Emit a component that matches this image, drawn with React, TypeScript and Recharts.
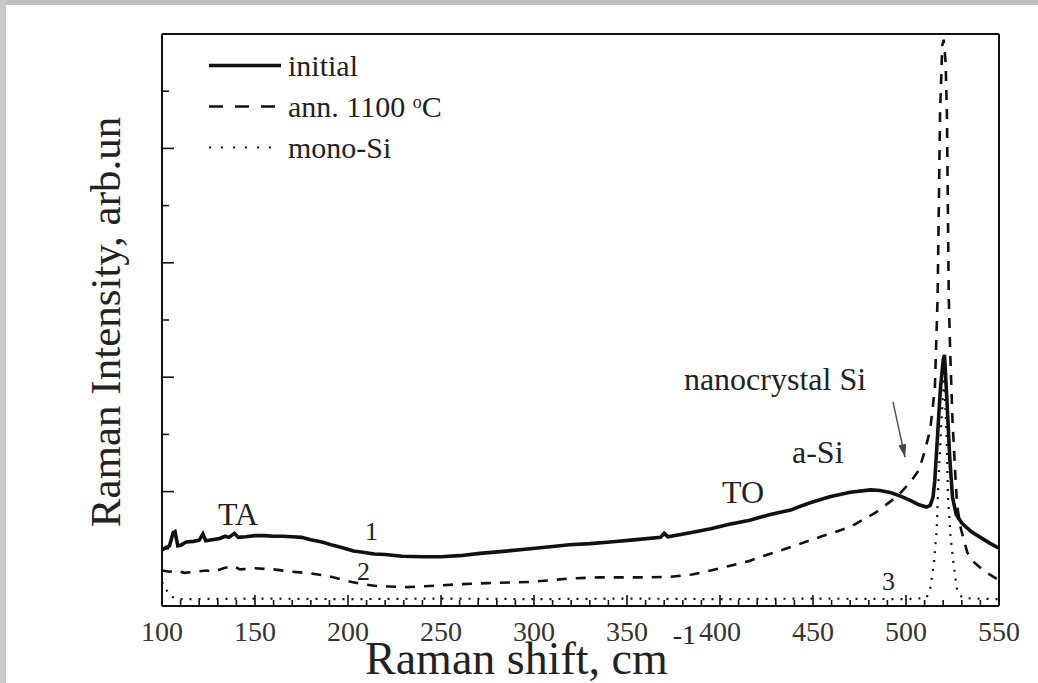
import React from 'react';
import { LineChart, Line, XAxis, YAxis, Legend, ReferenceDot, ReferenceLine, Label } from 'recharts';

// Raman shift, cm-1
const xTicks = [100, 110, 120, 130, 140, 150, 160, 170, 180, 190, 200, 210, 220, 230, 240, 250, 260, 270, 280, 290, 300, 310, 320, 330, 340, 350, 360, 370, 380, 390, 400, 410, 420, 430, 440, 450, 460, 470, 480, 490, 500, 510, 520, 530, 540, 550];
const xLabels = [100, 150, 200, 250, 300, 350, 400, 450, 500, 550];
const yTicks = [0, 1, 2, 3, 4, 5, 6, 7, 8, 9, 10];
const yMajor = [0, 2, 4, 6, 8, 10];

// curve 1 - initial
const initialSeries = [
  { x: 100, y: 0.98 }, { x: 102, y: 1.02 }, { x: 104, y: 1.05 }, { x: 106, y: 1.28 }, { x: 107, y: 1.3 },
  { x: 108.5, y: 1.05 }, { x: 110, y: 1.06 }, { x: 113, y: 1.12 }, { x: 117, y: 1.13 }, { x: 120, y: 1.15 },
  { x: 122, y: 1.26 }, { x: 123.5, y: 1.14 }, { x: 127, y: 1.16 }, { x: 131, y: 1.18 }, { x: 134, y: 1.22 },
  { x: 136, y: 1.2 }, { x: 139, y: 1.27 }, { x: 141, y: 1.2 }, { x: 145, y: 1.21 }, { x: 150, y: 1.23 },
  { x: 155, y: 1.23 }, { x: 160, y: 1.22 }, { x: 165, y: 1.22 }, { x: 170, y: 1.21 }, { x: 175, y: 1.2 },
  { x: 180, y: 1.16 }, { x: 186, y: 1.12 }, { x: 192, y: 1.06 }, { x: 197, y: 1.02 }, { x: 203, y: 0.96 },
  { x: 208, y: 0.94 }, { x: 214, y: 0.91 }, { x: 220, y: 0.9 }, { x: 229, y: 0.87 }, { x: 240, y: 0.86 },
  { x: 250, y: 0.86 }, { x: 260, y: 0.88 }, { x: 271, y: 0.92 }, { x: 285, y: 0.96 }, { x: 298, y: 1.0 },
  { x: 310, y: 1.04 }, { x: 319, y: 1.07 }, { x: 330, y: 1.09 }, { x: 341, y: 1.12 }, { x: 355, y: 1.16 },
  { x: 368, y: 1.2 }, { x: 370, y: 1.27 }, { x: 372, y: 1.21 }, { x: 384, y: 1.28 }, { x: 395, y: 1.35 },
  { x: 405, y: 1.43 }, { x: 416, y: 1.5 }, { x: 427, y: 1.6 }, { x: 438, y: 1.68 }, { x: 448, y: 1.8 },
  { x: 459, y: 1.91 }, { x: 470, y: 1.99 }, { x: 481, y: 2.03 }, { x: 486, y: 2.02 }, { x: 492, y: 1.98 },
  { x: 497, y: 1.92 }, { x: 502, y: 1.85 }, { x: 507, y: 1.77 }, { x: 511, y: 1.73 }, { x: 513, y: 1.76 },
  { x: 514.5, y: 1.9 }, { x: 515.5, y: 2.2 }, { x: 517, y: 3.0 }, { x: 518.5, y: 3.8 }, { x: 520, y: 4.3 },
  { x: 520.7, y: 4.39 }, { x: 522, y: 3.6 }, { x: 523.5, y: 2.6 }, { x: 525, y: 1.9 }, { x: 527, y: 1.6 },
  { x: 530, y: 1.45 }, { x: 535, y: 1.3 }, { x: 540, y: 1.2 }, { x: 545, y: 1.1 }, { x: 550, y: 1.01 },
];

// curve 2 - annealed 1100 C
const annealedSeries = [
  { x: 100, y: 0.62 }, { x: 104, y: 0.6 }, { x: 108, y: 0.62 }, { x: 112, y: 0.58 }, { x: 118, y: 0.6 },
  { x: 124, y: 0.62 }, { x: 128, y: 0.6 }, { x: 133, y: 0.66 }, { x: 138, y: 0.7 }, { x: 142, y: 0.64 },
  { x: 150, y: 0.66 }, { x: 160, y: 0.64 }, { x: 170, y: 0.6 }, { x: 180, y: 0.57 }, { x: 190, y: 0.52 },
  { x: 196, y: 0.47 }, { x: 202, y: 0.42 }, { x: 208, y: 0.38 }, { x: 215, y: 0.35 }, { x: 222, y: 0.34 },
  { x: 232, y: 0.33 }, { x: 244, y: 0.35 }, { x: 260, y: 0.38 }, { x: 275, y: 0.4 }, { x: 298, y: 0.42 },
  { x: 319, y: 0.48 }, { x: 335, y: 0.5 }, { x: 346, y: 0.5 }, { x: 360, y: 0.5 }, { x: 373, y: 0.51 },
  { x: 385, y: 0.55 }, { x: 395, y: 0.62 }, { x: 405, y: 0.7 }, { x: 415, y: 0.78 }, { x: 422, y: 0.86 },
  { x: 438, y: 1.03 }, { x: 454, y: 1.21 }, { x: 470, y: 1.38 }, { x: 484, y: 1.64 }, { x: 495, y: 1.91 },
  { x: 502, y: 2.15 }, { x: 507, y: 2.38 }, { x: 510, y: 2.7 }, { x: 513, y: 3.08 }, { x: 515.5, y: 3.8 },
  { x: 517, y: 5.4 }, { x: 518.3, y: 8.6 }, { x: 519.5, y: 9.8 }, { x: 520.3, y: 9.9 }, { x: 521.3, y: 9.5 },
  { x: 522, y: 8.6 }, { x: 523, y: 5.4 }, { x: 523.7, y: 4.5 }, { x: 525, y: 3.25 }, { x: 526.5, y: 2.3 },
  { x: 527.5, y: 1.75 }, { x: 529.5, y: 1.35 }, { x: 533, y: 0.93 }, { x: 537, y: 0.75 }, { x: 542.5, y: 0.6 },
  { x: 550, y: 0.45 },
];

// curve 3 - mono-Si
const monoSiSeries = [
  { x: 100, y: 0.42 }, { x: 102, y: 0.3 }, { x: 104, y: 0.2 }, { x: 107, y: 0.13 }, { x: 110, y: 0.12 },
  { x: 150, y: 0.13 }, { x: 200, y: 0.12 }, { x: 250, y: 0.13 }, { x: 300, y: 0.12 }, { x: 350, y: 0.13 },
  { x: 400, y: 0.12 }, { x: 450, y: 0.13 }, { x: 500, y: 0.12 }, { x: 511, y: 0.14 }, { x: 513, y: 0.3 },
  { x: 515, y: 0.75 }, { x: 516.5, y: 1.33 }, { x: 517.5, y: 2.2 }, { x: 519, y: 3.2 }, { x: 520.5, y: 4.0 },
  { x: 521.8, y: 3.0 }, { x: 522.6, y: 1.9 }, { x: 524, y: 1.2 }, { x: 525.7, y: 0.7 }, { x: 527.4, y: 0.3 },
  { x: 530, y: 0.15 }, { x: 535, y: 0.13 }, { x: 550, y: 0.12 },
];

const serif = '"Liberation Serif", "Times New Roman", serif';
const ink = '#111';

const series = [
  { name: 'initial', data: initialSeries, width: 3.6, dash: undefined as string | undefined, legendDash: undefined as string | undefined },
  { name: 'ann. 1100 °C', data: annealedSeries, width: 2.6, dash: '10 9', legendDash: '14 12' },
  { name: 'mono-Si', data: monoSiSeries, width: 2.2, dash: '2 7', legendDash: '2 10' },
];

const notes = [
  { text: 'TA', x: 130.1, y: 1.42, size: 32 },
  { text: '1', x: 209.1, y: 1.15, size: 26 },
  { text: '2', x: 204.8, y: 0.45, size: 26 },
  { text: '3', x: 487.1, y: 0.28, size: 26 },
  { text: 'TO', x: 401.1, y: 1.8, size: 32 },
  { text: 'a-Si', x: 438.7, y: 2.5, size: 32 },
  { text: 'nanocrystal Si', x: 380.6, y: 3.78, size: 32 },
];

const arrowFrom = { x: 493.0, y: 3.57 };
const arrowTo = { x: 499.5, y: 2.6 };

const BottomTick = ({ x, y, payload }: any) => {
  const major = xLabels.includes(payload.value);
  return (
    <g>
      <line x1={x} x2={x} y1={y} y2={y - (major ? 11 : 6)} stroke={ink} strokeWidth={1.6} />
      {major && (
        <text x={x} y={y + 35} textAnchor="middle" fontSize={28} fontFamily={serif} fill="#333">
          {payload.value}
        </text>
      )}
    </g>
  );
};

const TopTick = ({ x, y, payload }: any) => {
  const major = xLabels.includes(payload.value);
  return <line x1={x} x2={x} y1={y} y2={y + (major ? 11 : 6)} stroke={ink} strokeWidth={1.6} />;
};

const LeftTick = ({ x, y, payload }: any) => {
  const major = yMajor.includes(payload.value);
  return <line x1={x} x2={x + (major ? 12 : 7)} y1={y} y2={y} stroke={ink} strokeWidth={1.6} />;
};

const RightTick = ({ x, y, payload }: any) => {
  const major = yMajor.includes(payload.value);
  return <line x1={x} x2={x - (major ? 12 : 7)} y1={y} y2={y} stroke={ink} strokeWidth={1.6} />;
};

const XTitle = ({ viewBox }: any) => (
  <text x={viewBox.x + 203} y={viewBox.y + 68} fontSize={46} fontFamily={serif} fill="#222">
    Raman shift, cm
    <tspan fontSize={28} dx={5} dy={-30}>-1</tspan>
  </text>
);

const YTitle = ({ viewBox }: any) => {
  const cx = viewBox.x + viewBox.width - 57;
  const cy = 322;
  return (
    <text
      x={cx}
      y={cy}
      transform={`rotate(-90 ${cx} ${cy})`}
      textAnchor="middle"
      dominantBaseline="central"
      fontSize={43}
      fontFamily={serif}
      fill="#222"
    >
      Raman Intensity, arb.un
    </text>
  );
};

const LegendBox = () => (
  <div style={{ fontFamily: serif, color: '#222' }}>
    {series.map((s) => (
      <div key={s.name} style={{ display: 'flex', alignItems: 'center', height: 41 }}>
        <svg width={72} height={41}>
          <line x1={0} x2={72} y1={20.5} y2={20.5} stroke={ink} strokeWidth={s.width} strokeDasharray={s.legendDash} />
        </svg>
        <span style={{ fontSize: 30, marginLeft: 7, lineHeight: '41px', whiteSpace: 'nowrap' }}>
          {s.name === 'ann. 1100 °C' ? (
            <>
              ann. 1100 <sup style={{ fontSize: 18, verticalAlign: 'top', position: 'relative', top: -4 }}>o</sup>C
            </>
          ) : (
            s.name
          )}
        </span>
      </div>
    ))}
  </div>
);

const App = () => {
  return (
    <div style={{ position: 'absolute', left: 0, top: 0, width: 1038, height: 683, background: '#fff', overflow: 'hidden' }}>
      <div style={{ position: 'absolute', left: 0, top: 0, width: 1038, height: 5, background: '#bebebe' }} />
      <div style={{ position: 'absolute', left: 0, top: 0, width: 6, height: 683, background: '#c9c9c9' }} />
      <LineChart width={1038} height={683} margin={{ top: 33, right: 38, bottom: 76, left: 161 }}>
        <XAxis
          dataKey="x"
          type="number"
          domain={[100, 550]}
          ticks={xTicks}
          interval={0}
          height={1}
          tickSize={0}
          tickMargin={0}
          tickLine={false}
          tick={<BottomTick />}
          axisLine={{ stroke: ink, strokeWidth: 2 }}
        >
          <Label content={<XTitle />} />
        </XAxis>
        <XAxis
          xAxisId="top"
          orientation="top"
          dataKey="x"
          type="number"
          domain={[100, 550]}
          ticks={xTicks}
          interval={0}
          height={1}
          tickSize={0}
          tickMargin={0}
          tickLine={false}
          tick={<TopTick />}
          axisLine={{ stroke: ink, strokeWidth: 2 }}
        />
        <YAxis
          type="number"
          domain={[0, 10]}
          ticks={yTicks}
          interval={0}
          width={1}
          tickSize={0}
          tickMargin={0}
          tickLine={false}
          allowDataOverflow
          tick={<LeftTick />}
          axisLine={{ stroke: ink, strokeWidth: 2 }}
        >
          <Label content={<YTitle />} />
        </YAxis>
        <YAxis
          yAxisId="right"
          orientation="right"
          type="number"
          domain={[0, 10]}
          ticks={yTicks}
          interval={0}
          width={1}
          tickSize={0}
          tickMargin={0}
          tickLine={false}
          tick={<RightTick />}
          axisLine={{ stroke: ink, strokeWidth: 2 }}
        />
        <Legend
          layout="vertical"
          align="center"
          verticalAlign="middle"
          content={<LegendBox />}
          wrapperStyle={{ left: 209, top: 45, width: 300, height: 125 }}
        />
        {series.map((s) => (
          <Line
            key={s.name}
            data={s.data}
            dataKey="y"
            name={s.name}
            type="linear"
            stroke={ink}
            strokeWidth={s.width}
            strokeDasharray={s.dash}
            dot={false}
            activeDot={false}
            isAnimationActive={false}
          />
        ))}
        {notes.map((n) => (
          <ReferenceDot
            key={n.text}
            x={n.x}
            y={n.y}
            r={0}
            ifOverflow="visible"
            shape={(p: any) => (
              <text x={p.cx} y={p.cy} fontSize={n.size} fontFamily={serif} fill="#222">
                {n.text}
              </text>
            )}
          />
        ))}
        <ReferenceLine
          segment={[arrowFrom, arrowTo]}
          stroke="#555"
          strokeWidth={1.5}
          ifOverflow="visible"
        />
        <ReferenceDot
          x={arrowTo.x}
          y={arrowTo.y}
          r={0}
          ifOverflow="visible"
          shape={(p: any) => {
            const ux = 0.213;
            const uy = 0.977;
            const bx = p.cx - 13 * ux;
            const by = p.cy - 13 * uy;
            const pts = `${p.cx},${p.cy} ${bx - 4 * uy},${by + 4 * ux} ${bx + 4 * uy},${by - 4 * ux}`;
            return <polygon points={pts} fill="#444" />;
          }}
        />
      </LineChart>
    </div>
  );
};

export default App;
